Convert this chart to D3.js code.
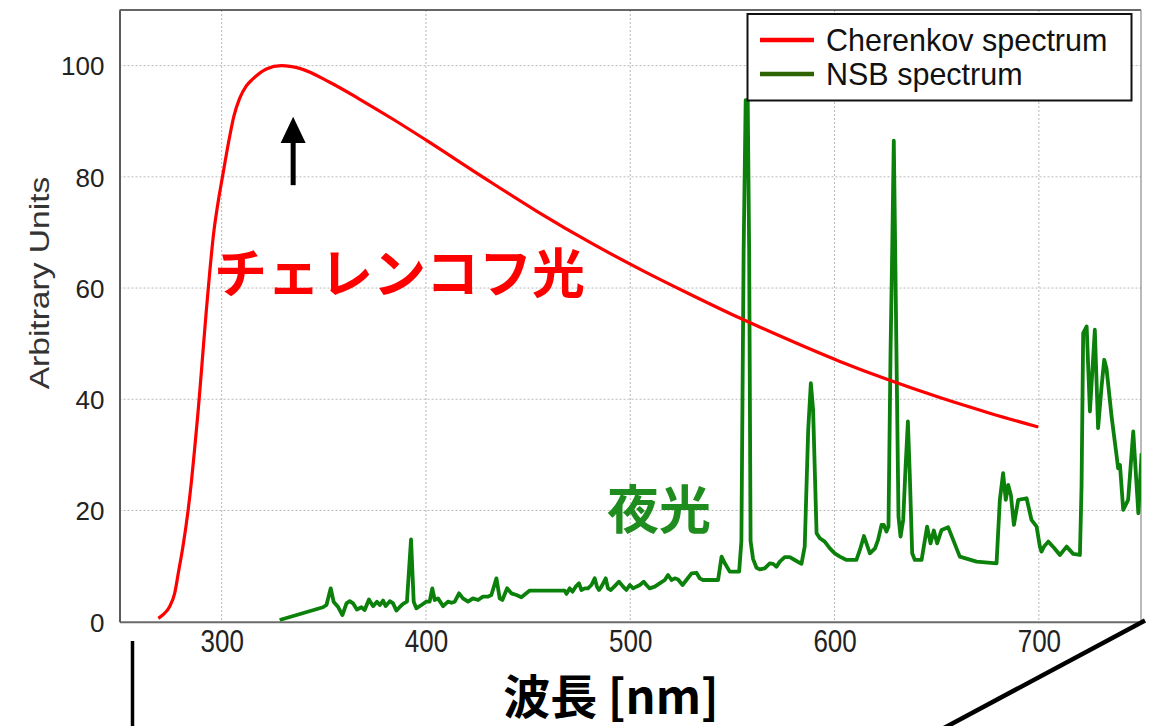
<!DOCTYPE html>
<html>
<head>
<meta charset="utf-8">
<script src="https://cdn.jsdelivr.net/npm/d3@7/dist/d3.min.js"></script>
<style>
  html, body { margin: 0; padding: 0; background: #fff; }
  svg { display: block; }
</style>
</head>
<body>
<svg id="chart" width="1157" height="726"></svg>
<script>
// Cherenkov emission spectrum (wavelength in nm, arbitrary units)
const cherenkovNm  = [269, 272, 274.5, 277, 279, 281, 283.5, 285.2, 286.8, 288.4, 289.6, 290.8, 292.5, 294.2, 296, 298.2, 300.4, 303.9, 306, 308.8, 312, 315.3, 321.9, 329.2, 338.2, 352.9, 367.8, 383.7, 400.1, 428.1, 454.3, 482.3, 506.8, 527.5, 553.6, 570, 602.6, 627, 651.5, 676, 699.7];
const cherenkovVal = [0.6, 1.5, 2.7, 5.1, 9.2, 13.4, 19.8, 25.2, 31.2, 37.5, 42.8, 48.3, 56.0, 63.0, 69.6, 75.3, 80.0, 87.2, 90.9, 94.1, 96.3, 97.6, 99.4, 100, 99.5, 97.0, 93.9, 90.4, 86.6, 79.9, 73.8, 67.8, 63.0, 59.2, 54.6, 51.9, 46.8, 43.4, 40.3, 37.5, 35.0];

// Night-sky background spectrum (wavelength in nm, arbitrary units)
const nsbNm = [
  328.4, 349.6, 351.3, 353.4, 354.8, 356.9, 359.1, 361.1, 362.7, 364.3, 366.2, 368.4, 370.0, 372.1, 374.1, 376.0, 377.4, 379.0, 380.3, 382.3,
  383.9, 385.5, 387.1, 388.8, 390.7, 392.7, 394.0, 395.3, 397.8, 400.2, 401.8, 403.1, 404.3, 405.9, 408.4, 410.8, 412.5, 414.1, 416.2,
  418.1, 420.6, 423.0, 425.5, 427.9, 430.4, 432.0, 434.5, 436.1, 437.4, 439.7, 441.8, 444.3, 446.7, 450.8, 467.9, 468.8, 470.4, 471.7, 473.3,
  474.9, 476.1, 477.7, 479.3, 481.0, 482.6, 483.7, 484.7, 485.9, 488.0, 489.1, 490.5, 492.4, 494.5, 496.5, 498.1, 499.8, 501.4, 503.0, 504.7,
  506.6, 507.9, 509.5, 512.0, 514.4, 516.9, 518.5, 520.2, 521.8, 523.4, 525.6, 527.5, 530.0, 532.4, 534.0, 535.6, 543.0, 544.7, 546.3, 548.7,
  550.3, 553.3, 554.4, 555.5, 556.5, 557.5, 558.2, 558.9, 560.1, 561.8, 563.4, 565.8, 568.3, 569.9, 571.6, 573.2, 575.6, 578.1, 580.5, 583.8,
  585.4, 587.1, 588.4, 589.5, 591.2, 592.8, 595.2, 597.7, 600.1, 602.6, 605.9, 610.7, 612.4, 614.4, 617.3, 619.8, 621.3, 623.0, 624.1, 625.4,
  626.4, 627.4, 628.2, 629.0, 629.5, 630.3, 631.3, 632.3, 633.6, 634.7, 635.9, 636.8, 638.0, 639.3, 642.6, 645.3, 647.0, 648.6, 650.2, 652.4,
  655.6, 661.3, 669.5, 679.3, 680.9, 682.5, 683.8, 685.0, 686.3, 687.8, 689.9, 694.0, 696.4, 698.9, 700.5, 701.3, 702.5, 704.6, 707.4, 710.3,
  713.6, 716.8, 720.1, 720.9, 721.7, 723.4, 725.0, 727.4, 729.0, 730.7, 732.0, 733.1, 735.6, 738.0, 738.8, 739.7, 741.3, 743.7, 746.2, 748.7,
  750.3
];
const nsbVal = [
  0.3, 2.6, 3.0, 6.0, 3.6, 2.7, 1.2, 3.3, 3.7, 3.3, 2.2, 2.6, 2.1, 4.0, 2.8, 3.6, 3.0, 3.8, 2.8, 3.7,
  3.3, 2.0, 2.6, 3.2, 3.6, 14.8, 3.6, 2.4, 3.0, 3.6, 3.6, 6.0, 3.9, 4.2, 2.8, 3.6, 3.4, 3.6, 5.1,
  4.2, 3.6, 4.2, 3.9, 4.5, 4.5, 4.8, 7.8, 4.2, 3.9, 6.0, 5.1, 4.8, 4.4, 5.6, 5.6, 5.0, 6.0, 5.4, 6.3,
  6.9, 5.7, 6.0, 6.0, 6.6, 7.8, 6.3, 5.7, 6.3, 7.8, 6.0, 5.7, 6.4, 7.2, 6.3, 5.7, 6.6, 6.0, 6.3, 6.6,
  7.2, 6.6, 6.0, 6.3, 6.9, 7.5, 8.4, 7.5, 7.8, 7.6, 6.6, 7.5, 8.7, 8.8, 7.8, 7.5, 7.5, 11.7, 10.5, 9.0,
  9.0, 9.0, 14.5, 66.7, 93.8, 93.8, 66.7, 14.5, 11.3, 9.7, 9.4, 9.6, 10.5, 10.4, 9.9, 10.8, 11.6, 11.6, 11.1, 10.4,
  13.5, 34.5, 42.9, 38.1, 15.9, 15.0, 14.4, 13.2, 12.3, 11.7, 11.1, 11.1, 12.9, 15.4, 12.3, 13.2, 14.7, 17.4, 17.4, 16.2,
  17.1, 48.3, 66.3, 86.5, 72.2, 48.3, 18.9, 15.3, 18.3, 27.3, 36.0, 26.7, 12.3, 11.1, 11.1, 17.1, 14.1, 16.4, 14.1, 16.5,
  17.0, 11.7, 10.8, 10.5, 21.9, 26.7, 21.9, 24.6, 22.8, 17.4, 21.9, 22.2, 18.3, 17.1, 13.5, 12.6, 13.5, 14.4, 13.3, 12.0,
  13.5, 12.2, 12.0, 24.3, 51.9, 53.1, 37.8, 52.5, 34.8, 42.3, 47.1, 45.6, 36.9, 30.0, 27.6, 28.2, 20.1, 21.9, 34.2, 19.5,
  30.3
];

const xTicks = [300, 400, 500, 600, 700];
const yTicks = [0, 20, 40, 60, 80, 100];
const seriesNames = ["Cherenkov spectrum", "NSB spectrum"];
const xTitle = "波長 [nm]";
const yTitle = "Arbitrary Units";
const cherenkovLabel = "チェレンコフ光";
const nsbLabel = "夜光";

const RED = "#ff0000";
const GREEN = "#0b800b";
const GREEN_TEXT = "#1e8c1e";
const GREEN_LEGEND = "#2e6400";
const SANS = "'Liberation Sans', Arial, sans-serif";
const CJK = "'Noto Sans CJK JP', 'Noto Sans CJK SC', sans-serif";

const svg = d3.select("#chart");
const plot = { left: 119.5, right: 1141, top: 10, bottom: 621.7 };

const x = d3.scaleLinear().domain([250, 750]).range([plot.left, plot.right]);
const y = d3.scaleLinear().domain([0, 110]).range([plot.bottom, plot.top]);

svg.append("rect").attr("width", 1157).attr("height", 726).attr("fill", "#fff");

// clip region for the plotted series
svg.append("defs").append("clipPath").attr("id", "plotClip")
  .append("rect")
  .attr("x", plot.left).attr("y", plot.top)
  .attr("width", plot.right - plot.left).attr("height", plot.bottom - plot.top);

// dotted grid
const grid = svg.append("g").attr("stroke", "#b8b8b8").attr("stroke-width", 1)
  .attr("stroke-dasharray", "2,2");
grid.selectAll("line.gx").data(xTicks).join("line")
  .attr("x1", d => x(d)).attr("x2", d => x(d))
  .attr("y1", plot.top).attr("y2", plot.bottom);
grid.selectAll("line.gy").data(yTicks.filter(d => d > 0)).join("line")
  .attr("x1", plot.left).attr("x2", plot.right)
  .attr("y1", d => y(d)).attr("y2", d => y(d));

// frame
svg.append("line").attr("x1", plot.left).attr("x2", plot.right).attr("y1", plot.top).attr("y2", plot.top)
  .attr("stroke", "#333").attr("stroke-width", 1.5);
svg.append("line").attr("x1", plot.right).attr("x2", plot.right).attr("y1", plot.top).attr("y2", plot.bottom)
  .attr("stroke", "#8a8a8a").attr("stroke-width", 1.2);

// axes
const xAxis = d3.axisBottom(x).tickValues(xTicks).tickSize(0).tickPadding(0);
const gx = svg.append("g").attr("transform", `translate(0,${plot.bottom})`).call(xAxis);
gx.select(".domain").attr("stroke", "#6a6a6a").attr("stroke-width", 2);
gx.selectAll(".tick text")
  .attr("font-family", SANS).attr("font-size", 26).attr("fill", "#222")
  .attr("y", 0).attr("dy", 0)
  .attr("transform", "translate(0,30) scale(1,1.2)");

const yAxis = d3.axisLeft(y).tickValues(yTicks).tickSize(0).tickPadding(15);
const gy = svg.append("g").attr("transform", `translate(${plot.left},0)`).call(yAxis);
gy.select(".domain").attr("stroke", "#5a5a5a").attr("stroke-width", 2);
gy.selectAll(".tick text")
  .attr("font-family", SANS).attr("font-size", 26).attr("fill", "#222")
  .attr("dy", "0.36em");

// axis titles
svg.append("text")
  .attr("transform", "translate(49,283) rotate(-90) scale(1.2,1)")
  .attr("text-anchor", "middle")
  .attr("font-family", SANS).attr("font-size", 28).attr("fill", "#333")
  .text(yTitle);

svg.append("text")
  .attr("x", 611).attr("y", 714)
  .attr("text-anchor", "middle")
  .attr("font-family", CJK).attr("font-weight", "bold").attr("font-size", 47).attr("fill", "#000")
  .text(xTitle);

// series
const cherenkov = cherenkovNm.map((n, i) => [n, cherenkovVal[i]]);
const nsb = nsbNm.map((n, i) => [n, nsbVal[i]]);
const nsbLine = d3.line().x(d => x(d[0])).y(d => y(d[1])).curve(d3.curveLinear);
const cherenkovLine = d3.line().x(d => x(d[0])).y(d => y(d[1])).curve(d3.curveMonotoneX);

const series = svg.append("g").attr("clip-path", "url(#plotClip)");
series.append("path").datum(nsb)
  .attr("fill", "none").attr("stroke", GREEN).attr("stroke-width", 3.8)
  .attr("stroke-linejoin", "round")
  .attr("d", nsbLine);
series.append("path").datum(cherenkov)
  .attr("fill", "none").attr("stroke", RED).attr("stroke-width", 3.2)
  .attr("stroke-linejoin", "round")
  .attr("d", cherenkovLine);

// arrow pointing at the Cherenkov maximum
const ax = x(335);
const tipY = y(90.8), headY = y(86.1), tailY = y(78.5);
svg.append("line").attr("x1", ax).attr("x2", ax).attr("y1", headY - 1).attr("y2", tailY)
  .attr("stroke", "#000").attr("stroke-width", 5);
svg.append("path")
  .attr("d", `M${ax},${tipY} L${ax - 12.5},${headY} L${ax + 12.5},${headY} Z`)
  .attr("fill", "#000");

// in-plot labels
svg.append("text").attr("x", 214).attr("y", 293)
  .attr("font-family", CJK).attr("font-weight", "bold").attr("font-size", 53).attr("fill", RED)
  .text(cherenkovLabel);
svg.append("text").attr("x", 607).attr("y", 529)
  .attr("font-family", CJK).attr("font-weight", "bold").attr("font-size", 52).attr("fill", GREEN_TEXT)
  .text(nsbLabel);

// legend
const legend = svg.append("g");
legend.append("rect").attr("x", 747.5).attr("y", 14).attr("width", 384).attr("height", 86.5)
  .attr("fill", "#fff").attr("stroke", "#111").attr("stroke-width", 2);
const legendColors = [RED, GREEN_LEGEND];
seriesNames.forEach((name, i) => {
  const ly = 40 + i * 34;
  legend.append("line").attr("x1", 760).attr("x2", 814).attr("y1", ly).attr("y2", ly)
    .attr("stroke", legendColors[i]).attr("stroke-width", 4.5);
  legend.append("text").attr("x", 826).attr("y", ly + 10.5)
    .attr("font-family", SANS).attr("font-size", 30.5).attr("fill", "#111")
    .text(name);
});

// outline strokes below the axis
svg.append("line").attr("x1", 132.5).attr("x2", 132.5).attr("y1", 641).attr("y2", 726)
  .attr("stroke", "#000").attr("stroke-width", 3.5);
svg.append("line").attr("x1", 1145).attr("x2", 944).attr("y1", 620.5).attr("y2", 728)
  .attr("stroke", "#000").attr("stroke-width", 4.5);
</script>
</body>
</html>
